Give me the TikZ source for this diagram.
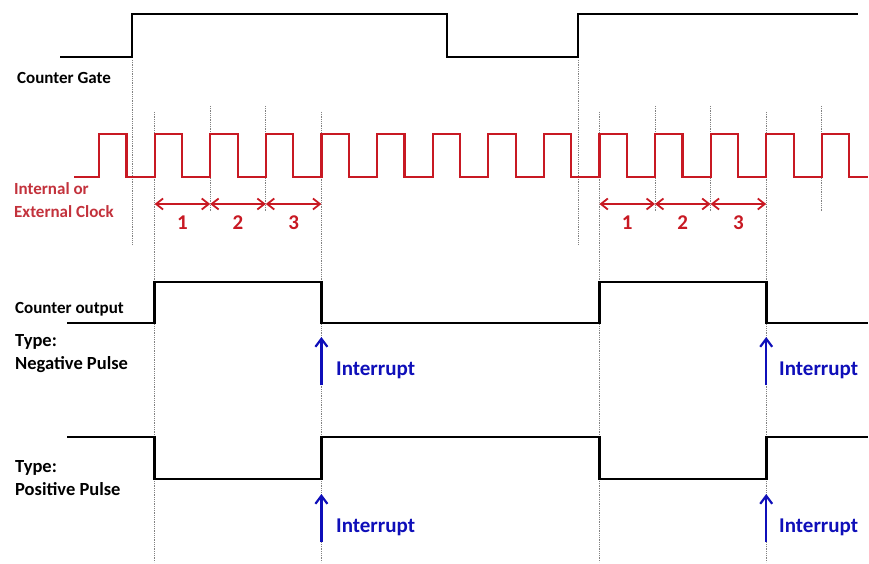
\documentclass[tikz,border=0pt]{standalone}
\usepackage{fontspec}
\setmainfont{Carlito}
\usetikzlibrary{arrows.meta}
\definecolor{clockred}{RGB}{200,25,35}
\definecolor{labelred}{RGB}{195,50,60}
\definecolor{irqblue}{RGB}{15,15,185}
\definecolor{guidegray}{RGB}{130,130,130}

\begin{document}
\begin{tikzpicture}[
    x=1pt, y=-1pt,
    >=Latex,
    wave/.style={line width=2.6pt, draw=black},
    clock/.style={line width=2.2pt, draw=clockred},
    guide/.style={densely dotted, line width=0.8pt, draw=guidegray},
    span/.style={{Straight Barb[length=7pt,width=11pt]}-{Straight Barb[length=7pt,width=11pt]}, line width=1.8pt, draw=clockred},
    irq/.style={-{Straight Barb[length=8pt,width=12pt]}, line width=2.2pt, draw=irqblue},
    sig label/.style={anchor=base west, align=left, inner sep=0pt, font=\fontsize{17}{23}\selectfont\bfseries},
    type label/.style={anchor=base west, align=left, inner sep=0pt, font=\fontsize{18.5}{23}\selectfont\bfseries},
    clock label/.style={anchor=base west, align=left, inner sep=0pt, text=labelred, font=\fontsize{17}{23}\selectfont\bfseries},
    count/.style={anchor=base, inner sep=0pt, text=clockred, font=\fontsize{21}{24}\selectfont\bfseries},
    irq label/.style={anchor=base west, inner sep=0pt, text=irqblue, font=\fontsize{21}{24}\selectfont\bfseries}
  ]
  \useasboundingbox (0,0) rectangle (869,564);

  % guide lines
  \draw[guide] (132,60) -- (132,245);
  \draw[guide] (578,60) -- (578,245);
  \foreach \gx in {154.6,321.4,599.4,766.2}
    \draw[guide] (\gx,112) -- (\gx,562);
  \foreach \gx in {210.2,265.8,655,710.6,821.8}
    \draw[guide] (\gx,106) -- (\gx,212);

  % counter gate
  \draw[wave] (60,57) -- (132,57) -- (132,14) -- (447,14) -- (447,57) -- (578,57) -- (578,14) -- (858,14);
  \node[sig label] (gate) at (17,84) {Counter Gate};

  % clock
  \draw[clock] (74,177) \foreach \k in {0,...,13} {
      -- ({99+55.6*\k},177) -- ({99+55.6*\k},134) -- ({126.5+55.6*\k},134) -- ({126.5+55.6*\k},177)
    } -- (868,177);
  \node[clock label] (clk) at (14,217) {Internal or\\External Clock};

  % counted periods
  \coordinate (p0) at (154.6,204);
  \coordinate (p1) at (210.2,204);
  \coordinate (p2) at (265.8,204);
  \coordinate (p3) at (321.4,204);
  \coordinate (q0) at (599.4,204);
  \coordinate (q1) at (655,204);
  \coordinate (q2) at (710.6,204);
  \coordinate (q3) at (766.2,204);
  \draw[span] (p0) -- (p1);
  \draw[span] (p1) -- (p2);
  \draw[span] (p2) -- (p3);
  \draw[span] (q0) -- (q1);
  \draw[span] (q1) -- (q2);
  \draw[span] (q2) -- (q3);
  \node[count] (n1) at (182.4,229) {1};
  \node[count] (n2) at (238,229) {2};
  \node[count] (n3) at (293.6,229) {3};
  \node[count] (m1) at (627.2,229) {1};
  \node[count] (m2) at (682.8,229) {2};
  \node[count] (m3) at (738.4,229) {3};

  % counter output, negative pulse
  \draw[wave] (67,323) -- (154.6,323) -- (154.6,282) -- (321.4,282) -- (321.4,323) -- (599.4,323) -- (599.4,282) -- (766.2,282) -- (766.2,323) -- (868,323);
  \node[sig label] (out) at (15,313) {Counter output};
  \node[type label] (neg) at (15,369) {Type:\\Negative Pulse};

  % positive pulse
  \draw[wave] (67,437) -- (154.6,437) -- (154.6,479) -- (321.4,479) -- (321.4,437) -- (599.4,437) -- (599.4,479) -- (766.2,479) -- (766.2,437) -- (868,437);
  \node[type label] (pos) at (15,495) {Type:\\Positive Pulse};

  % interrupts
  \coordinate (i1) at (321.4,385);
  \coordinate (i2) at (766.2,385);
  \coordinate (j1) at (321.4,542);
  \coordinate (j2) at (766.2,542);
  \draw[irq] (i1) -- ++(0,-48);
  \draw[irq] (i2) -- ++(0,-48);
  \draw[irq] (j1) -- ++(0,-48);
  \draw[irq] (j2) -- ++(0,-48);
  \node[irq label] (irq1) at (336,375) {Interrupt};
  \node[irq label] (irq2) at (779,375) {Interrupt};
  \node[irq label] (irq3) at (336,532) {Interrupt};
  \node[irq label] (irq4) at (779,532) {Interrupt};
\end{tikzpicture}
\end{document}
